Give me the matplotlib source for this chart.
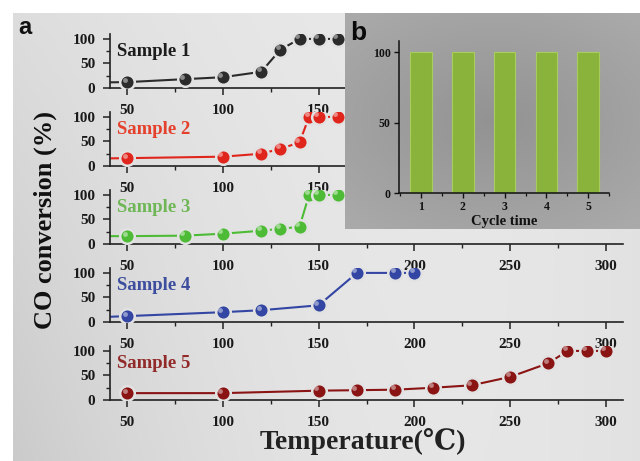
import numpy as np
import matplotlib
matplotlib.use("Agg")
import matplotlib.pyplot as plt
from matplotlib.transforms import offset_copy
from matplotlib.ticker import MultipleLocator

# --- DATA ---
sample_names = ["Sample 1", "Sample 2", "Sample 3", "Sample 4", "Sample 5"]

temp_1 = [30, 50, 80, 100, 120, 130, 140, 150, 160]
conv_1 = [11, 12, 18, 22, 33, 78, 100, 100, 100]

temp_2 = [30, 50, 100, 120, 130, 140, 145, 150, 160]
conv_2 = [15, 16, 19, 25, 35, 48, 100, 100, 100]

temp_3 = [30, 50, 80, 100, 120, 130, 140, 145, 150, 160]
conv_3 = [16, 16, 17, 21, 27, 31, 35, 100, 100, 100]

temp_4 = [30, 50, 100, 120, 150, 170, 190, 200]
conv_4 = [9, 12, 20, 24, 34, 100, 100, 100]

temp_5 = [50, 100, 150, 170, 190, 210, 230, 250, 270, 280, 290, 300]
conv_5 = [14, 14, 19, 20, 21, 25, 30, 47, 75, 100, 100, 100]

cycles = [1, 2, 3, 4, 5]
cycle_conv = [100, 100, 100, 100, 100]

temps = [temp_1, temp_2, temp_3, temp_4, temp_5]
convs = [conv_1, conv_2, conv_3, conv_4, conv_5]
marker_colors = ["#2b2b2b", "#e0261c", "#4dbb35", "#3346a3", "#8a1414"]
label_colors = ["#1c1c1c", "#e5402c", "#6fb756", "#3d4e9e", "#922a2a"]

serif = ["Liberation Serif", "DejaVu Serif"]
plt.rcParams["font.family"] = serif
plt.rcParams["font.weight"] = "bold"

W, H = 640, 461
fig = plt.figure(figsize=(W / 100, H / 100), dpi=100, facecolor="white")


def px_rect(left, top, right, bottom):
    return [left / W, (H - bottom) / H, (right - left) / W, (bottom - top) / H]


# --- background gradient (darker towards the lower left) ---
bg = fig.add_axes(px_rect(13, 13, W, H))
gx = np.linspace(0, 1, 300)
gy = np.linspace(0, 1, 200)  # top -> bottom
GX, GY = np.meshgrid(gx, gy)
shade = 0.925 - 0.13 * (1 - GX) ** 2.2 * (0.45 + 0.55 * GY) - 0.04 * GX ** 3
shade = np.clip(shade, 0, 1)
bg.imshow(np.dstack([shade] * 3), aspect="auto", extent=[0, 1, 0, 1])
bg.axis("off")

bg_ring = "#e2e2e2"

# --- panel a ---
for k in range(5):
    bottom = 88 + 78 * k
    ax = fig.add_axes(px_rect(110, bottom - 54, 623, bottom))
    ax.set_facecolor("none")
    ax.set_xlim(41, 309)
    ax.set_ylim(0, 110)
    for s in ["top", "right"]:
        ax.spines[s].set_visible(False)
    for s in ["left", "bottom"]:
        ax.spines[s].set_linewidth(1.2)
        ax.spines[s].set_color("#222222")
    ax.xaxis.set_major_locator(MultipleLocator(50))
    ax.xaxis.set_minor_locator(MultipleLocator(25))
    ax.yaxis.set_major_locator(MultipleLocator(50))
    ax.yaxis.set_minor_locator(MultipleLocator(25))
    ax.tick_params(which="major", length=5, width=1.1, color="#222222",
                   labelsize=11, pad=6.5)
    ax.tick_params(axis="y", which="major", pad=5.5)
    ax.tick_params(which="minor", length=3, width=1.0, color="#222222")
    for t in ax.get_xticklabels() + ax.get_yticklabels():
        t.set_fontweight("bold")
        t.set_color("#1a1a1a")

    c = marker_colors[k]
    ax.plot(temps[k], convs[k], "-", color=c, lw=1.5, zorder=2)
    ax.plot(temps[k], convs[k], "o", ms=10.5, color=c, mec=bg_ring, mew=1.8, zorder=3)
    hl = offset_copy(ax.transData, fig=fig, x=-1.8, y=1.8, units="points")
    ax.plot(temps[k], convs[k], "o", ms=3.5, color="white", mec="none",
            alpha=0.45, transform=hl, zorder=4)
    ax.text(7 / 513, 0.685, sample_names[k], transform=ax.transAxes,
            fontsize=13.5, fontweight="bold", color=label_colors[k],
            ha="left", va="center")

fig.text(45 / W, 1 - 220 / H, "CO conversion (%)", rotation=90, fontsize=19,
         fontweight="bold", ha="center", va="center", color="#111111")
fig.text(363 / W, 1 - 441 / H, "Temperature(℃)", fontsize=20,
         fontweight="bold", ha="center", va="center", color="#222222")
fig.text(25 / W, 1 - 27 / H, "a", fontsize=17, fontweight="bold",
         family=["Liberation Sans", "DejaVu Sans"], ha="center", va="center",
         color="#111111")

# --- panel b (inset) ---
ibg = fig.add_axes(px_rect(345, 13, W, 229))
rx = np.linspace(-1, 1, 300)
ry = np.linspace(-1, 1, 220)
RX, RY = np.meshgrid(rx, ry)
r = np.sqrt((RX * 0.9) ** 2 + (RY * 1.0) ** 2)
ishade = 0.575 + 0.07 * np.clip(r, 0, 1.3)
ibg.imshow(np.dstack([ishade] * 3), aspect="auto", extent=[0, 1, 0, 1])
ibg.axis("off")

bx = fig.add_axes(px_rect(399, 41, 609, 193))
bx.set_facecolor("none")
bx.bar(cycles, cycle_conv, width=0.52, color="#89b33a", edgecolor="#a9cc60",
       linewidth=0.8, zorder=2)
bx.set_xlim(0.47, 5.5)
bx.set_ylim(0, 108)
for s in ["top", "right"]:
    bx.spines[s].set_visible(False)
for s in ["left", "bottom"]:
    bx.spines[s].set_linewidth(1.1)
    bx.spines[s].set_color("#111111")
bx.set_xticks(cycles)
bx.xaxis.set_minor_locator(MultipleLocator(0.5))
bx.set_yticks([0, 50, 100])
bx.tick_params(which="major", length=3.5, width=1, color="#111111",
               labelsize=8.5, pad=2.5)
bx.tick_params(which="minor", length=2.5, width=0.9, color="#111111")
for t in bx.get_xticklabels() + bx.get_yticklabels():
    t.set_fontweight("bold")
    t.set_color("#111111")
bx.set_xlabel("Cycle time", fontsize=10.5, fontweight="bold", color="#111111",
              labelpad=1)
fig.text(358 / W, 1 - 33 / H, "b", fontsize=19, fontweight="bold",
         family=["Liberation Sans", "DejaVu Sans"], ha="center", va="center",
         color="#0a0a0a")

fig.savefig("out.png", dpi=100, facecolor="white")
